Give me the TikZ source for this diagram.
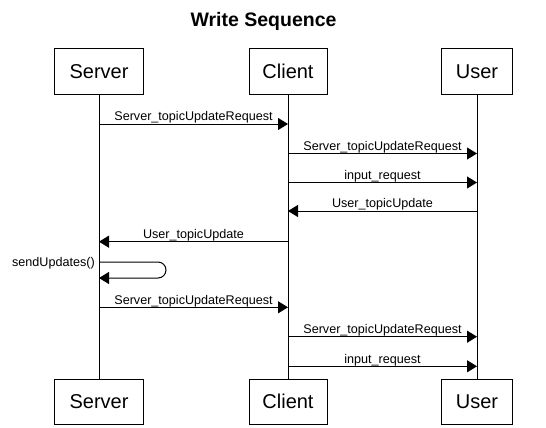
\documentclass[tikz,border=0pt]{standalone}
\usepackage{fontspec}
\setmainfont{Liberation Sans}
\usetikzlibrary{arrows.meta}
\newcommand\seqmsg[5]{% from, to, y, label, name
  \draw[msg] (#1 |- 0,#3) -- node[lbl] (#5) {#4} (#2 |- 0,#3);}
\begin{document}
\begin{tikzpicture}[x=1pt,y=-1pt,
  actor/.style={draw, line width=1pt, minimum height=45pt, inner sep=0pt,
    font=\fontsize{20}{24}\selectfont, text height=14.4pt, text depth=0pt},
  life/.style={line width=1pt},
  msg/.style={line width=1pt, -{Triangle[length=10pt,width=12pt]}},
  lbl/.style={font=\fontsize{12.6}{15}\selectfont, anchor=base, inner sep=0pt,
    yshift=3.3pt, midway}]
\fill[white] (0,0) rectangle (546,428);
\useasboundingbox (0,0) rectangle (546,428);
\node[font=\bfseries\fontsize{19.5}{23}\selectfont, anchor=base, inner sep=0pt] (title) at (263.5,26.7) {Write Sequence};
% top actors
\node[actor, minimum width=89pt] (sv) at (99,71.5) {Server};
\node[actor, minimum width=78pt] (cl) at (288,71.5) {Client};
\node[actor, minimum width=71pt] (us) at (477,71.5) {User};
% bottom actors
\node[actor, minimum width=89pt] (svb) at (99,401.5) {Server};
\node[actor, minimum width=78pt] (clb) at (288,401.5) {Client};
\node[actor, minimum width=71pt] (usb) at (477,401.5) {User};
% lifelines
\draw[life] (sv.south) -- (svb.north);
\draw[life] (cl.south) -- (clb.north);
\draw[life] (us.south) -- (usb.north);
% messages
\seqmsg{sv}{cl}{124}{Server\_topicUpdateRequest}{m1}
\seqmsg{cl}{us}{153.5}{Server\_topicUpdateRequest}{m2}
\seqmsg{cl}{us}{182.5}{input\_request}{m3}
\seqmsg{us}{cl}{211}{User\_topicUpdate}{m4}
\seqmsg{cl}{sv}{241.7}{User\_topicUpdate}{m5}
% self message
\coordinate (loopA) at (166,262);
\coordinate (loopB) at (166,278);
\draw[msg, rounded corners=8pt] (sv |- 0,262) -- (loopA) -- (loopB) -- (sv |- 0,278);
\node[font=\fontsize{12.6}{15}\selectfont, anchor=base east, inner sep=0pt] (m6) at (95,266.5) {sendUpdates()};
\seqmsg{sv}{cl}{307.3}{Server\_topicUpdateRequest}{m7}
\seqmsg{cl}{us}{336.7}{Server\_topicUpdateRequest}{m8}
\seqmsg{cl}{us}{366.3}{input\_request}{m9}
\end{tikzpicture}
\end{document}
